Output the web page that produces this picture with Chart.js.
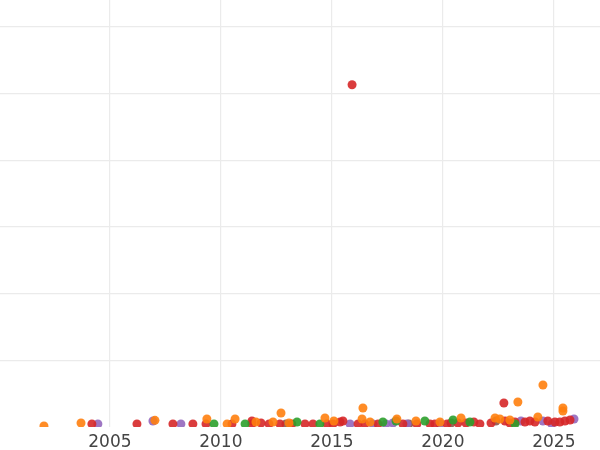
<!DOCTYPE html>
<html>
<head>
<meta charset="utf-8">
<script src="https://cdn.jsdelivr.net/npm/chart.js@4/dist/chart.umd.min.js"></script>
<style>
  html, body { margin: 0; padding: 0; background: #fff; }
  canvas { display: block; }
</style>
</head>
<body>
<canvas id="chart" width="600" height="450"></canvas>
<script>
// Points as [year, value]; the y axis has no labels,
// so values use a scale where gridlines are 100 apart
const orangePoints = [
    [2002.03, 1.5], [2003.70, 6], [2007.03, 10], [2009.37, 12], [2010.28, 4.5],
    [2010.64, 12], [2011.58, 7.5], [2012.35, 7.5], [2012.71, 21], [2013.07, 6],
    [2014.69, 13.5], [2015.09, 9], [2016.36, 12], [2016.40, 28.5], [2016.72, 7.5],
    [2017.93, 12], [2018.79, 9], [2019.87, 7.5], [2020.82, 13.5], [2022.35, 13.5],
    [2022.57, 12], [2023.02, 10.5], [2023.38, 37.5], [2024.28, 15], [2024.51, 63],
    [2025.41, 28.5], [2025.41, 24]
];
const greenPoints = [
    [2009.69, 4.5], [2011.09, 4.5], [2013.43, 7.5], [2014.46, 4.5], [2017.30, 7.5],
    [2017.89, 9], [2019.19, 9], [2020.46, 10.5], [2021.22, 7.5], [2023.25, 4.5]
];
const redPoints = [
    [2004.19, 4.5], [2006.22, 4.5], [2007.84, 4.5], [2008.74, 4.5], [2009.33, 4.5],
    [2010.50, 4.5], [2011.40, 9], [2011.40, 4.5], [2011.81, 6], [2012.17, 4.5],
    [2012.66, 4.5], [2013.20, 4.5], [2013.79, 4.5], [2014.15, 4.5], [2014.78, 4.5],
    [2015.05, 4.5], [2015.37, 7.5], [2015.50, 9], [2015.91, 513], [2016.18, 4.5],
    [2016.49, 4.5], [2017.08, 4.5], [2018.20, 4.5], [2018.83, 4.5], [2019.42, 4.5],
    [2019.64, 4.5], [2020.19, 4.5], [2020.68, 6], [2021.04, 6], [2021.40, 7.5],
    [2021.67, 4.5], [2022.17, 6], [2022.75, 36], [2022.80, 9], [2023.02, 6],
    [2023.25, 7.5], [2023.70, 7.5], [2023.92, 9], [2024.15, 7.5], [2024.73, 9],
    [2025.05, 7.5], [2025.27, 7.5], [2025.50, 9], [2025.73, 10.5]
];
const purplePoints = [
    [2004.46, 4.5], [2006.94, 9], [2008.20, 4.5], [2015.82, 4.5], [2016.85, 4.5],
    [2017.44, 4.5], [2017.75, 6], [2018.38, 4.5], [2019.87, 4.5], [2023.52, 9],
    [2024.51, 9], [2024.91, 4.5], [2025.91, 12]
];
const brownPoints = [
    [2012.93, 4.5], [2018.47, 4.5], [2020.37, 6], [2022.39, 9]
];

const seriesColors = ['rgba(255,127,14,0.9)', 'rgba(44,160,44,0.9)', 'rgba(214,39,40,0.9)',
                      'rgba(148,103,189,0.9)', 'rgba(140,86,75,0.9)'];
const seriesNames = ['orange', 'green', 'red', 'purple', 'brown'];
const allSeries = [orangePoints, greenPoints, redPoints, purplePoints, brownPoints];

const datasets = allSeries.map((points, i) => ({
    label: seriesNames[i],
    data: points.map(p => ({ x: p[0], y: p[1] })),
    backgroundColor: seriesColors[i],
    borderWidth: 0,
    pointRadius: 4.5,
    clip: 0
}));

const gridColor = '#ebebeb';

new Chart(document.getElementById('chart').getContext('2d'), {
    type: 'scatter',
    data: { datasets: datasets },
    options: {
        responsive: false,
        animation: false,
        devicePixelRatio: 1,
        events: [],
        layout: { padding: 0, autoPadding: false },
        plugins: {
            legend: { display: false },
            tooltip: { enabled: false }
        },
        scales: {
            x: {
                type: 'linear',
                min: 2000.05,
                max: 2027.08,
                border: { display: false },
                grid: { color: gridColor, lineWidth: 1.2, drawTicks: false },
                ticks: {
                    stepSize: 5,
                    includeBounds: false,
                    padding: 5,
                    color: '#444',
                    font: { family: 'DejaVu Sans', size: 17 },
                    callback: v => String(v)
                },
                afterFit: scale => { scale.height = 23; }
            },
            y: {
                type: 'linear',
                min: 0,
                max: 640,
                border: { display: false },
                grid: {
                    color: ctx => (ctx.tick && ctx.tick.value === 0) ? 'rgba(0,0,0,0)' : gridColor,
                    lineWidth: 1.2,
                    drawTicks: false
                },
                ticks: { display: false, stepSize: 100, includeBounds: false },
                afterFit: scale => { scale.width = 0; }
            }
        }
    }
});
</script>
</body>
</html>
